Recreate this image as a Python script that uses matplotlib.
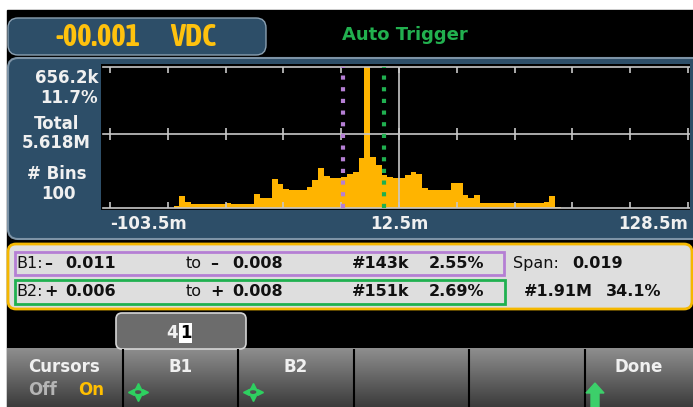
import numpy as np
import matplotlib
matplotlib.use('Agg')
import matplotlib.pyplot as plt
from matplotlib.patches import FancyBboxPatch, Rectangle, Ellipse, Polygon
from matplotlib.colors import LinearSegmentedColormap
from matplotlib import font_manager

# header
reading = '-00.001'
unit = 'VDC'
trigger = 'Auto Trigger'

# histogram: bins span the whole x axis (mV), counts in thousands
x_lo, x_hi = -103.5, 128.5
n_bins = 100
counts_k = [0, 0, 0, 0, 0, 0, 0, 0, 0, 0, 0,
            7, 56, 28, 19, 19, 19, 19, 19, 19, 23, 19, 19, 19, 19, 62, 47, 47, 135, 109,
            88, 81, 81, 81, 95, 129, 183, 149, 137, 137,
            144, 155, 168, 230, 656.2, 236, 199, 151, 144, 137,
            137, 152, 168, 155, 90, 82, 82, 84, 84, 116,
            116, 59, 47, 59,
            20, 20, 20, 20, 20, 20, 20, 20, 20, 20, 20,
            28, 54, 5,
            0, 0, 0, 0, 0, 0, 0, 0, 0, 0, 0, 0, 0, 0, 0, 0, 0, 0, 0, 0, 0, 0]
tick_labels = ['-103.5m', '12.5m', '128.5m']

# side panel
peak_label, peak_pct = '656.2k', '11.7%'
total_label = '5.618M'
bins_label = '100'

# cursors
b1_bin, b2_bin = 40, 47
b1_from, b1_to, b1_count, b1_pct = '0.011', '0.008', '#143k', '2.55%'
b2_from, b2_to, b2_count, b2_pct = '0.006', '0.008', '#151k', '2.69%'
span_val = '0.019'
span_count, span_pct = '#1.91M', '34.1%'
softkeys = ['Cursors', 'B1', 'B2', '', '', 'Done']

# colours
panel_blue = '#2d4e68'
amber = '#ffb400'
purple = '#b57fd4'
green = '#20b050'

# look for a condensed face for the big readout
narrow, stretch, found = 'DejaVu Sans', 'normal', False
cands = []
for f in font_manager.fontManager.ttflist:
    if (str(f.stretch) in ('condensed', 'semi-condensed', 'extra-condensed')
            or 'Narrow' in f.name or 'Condensed' in f.name):
        bold = f.weight in ('bold', 700, 'heavy', 800)
        cands.append((0 if bold else 1, f.name, str(f.stretch)))
if cands:
    cands.sort()
    _, narrow, stretch = cands[0]
    found = True
read_size = 22 if found else 17

W, H = 693, 407
fig = plt.figure(figsize=(W / 100, H / 100), dpi=100)
fig.patch.set_facecolor('white')
bg = fig.add_axes([0, 0, 1, 1])
bg.axis('off')


def txt(x, y, s, size=12, color='#f0f0f0', weight='bold', ha='left', family='DejaVu Sans', **kw):
    bg.text(x, y, s, fontsize=size, color=color, fontweight=weight, ha=ha, va='center',
            family=family, zorder=10, **kw)


bg.add_patch(Rectangle((7, 10), W - 7, H - 10, color='black', zorder=0))

# readout box
bg.add_patch(FancyBboxPatch((8, 18), 258, 37, boxstyle='round,pad=0,rounding_size=10',
                            fc=panel_blue, ec='#8aa0b2', lw=1, zorder=1))
txt(55, 37, reading, size=read_size, color='#ffc20e', family=narrow, fontstretch=stretch)
txt(170, 37, unit, size=read_size, color='#ffc20e', family=narrow, fontstretch=stretch)
txt(342, 35, trigger, size=13, color='#22b04f')

# histogram panel
bg.add_patch(FancyBboxPatch((8, 58), 700, 181, boxstyle='round,pad=0,rounding_size=10',
                            fc=panel_blue, ec='#7d93a6', lw=1.5, zorder=1))
txt(98, 78, peak_label, ha='right')
txt(98, 98, peak_pct, ha='right')
txt(57, 124, 'Total', ha='center')
txt(56, 143, total_label, ha='center')
txt(57, 174, '# Bins', ha='center')
txt(58, 194, bins_label, ha='center')

# cursor info box
bg.add_patch(FancyBboxPatch((8, 244), 684, 65, boxstyle='round,pad=0,rounding_size=8',
                            fc='#dedede', ec='#f5b800', lw=2, zorder=1))
bg.add_patch(Rectangle((15, 252), 489, 23, fc='none', ec=purple, lw=2, zorder=2))
bg.add_patch(Rectangle((15, 280), 490, 24, fc='none', ec=green, lw=2, zorder=2))
dark = '#111111'
for y, lab, sign, v0, v1, cnt, pct in ((263.5, 'B1:', '\u2013', b1_from, b1_to, b1_count, b1_pct),
                                       (292, 'B2:', '+', b2_from, b2_to, b2_count, b2_pct)):
    txt(16, y, lab, color=dark, weight='normal', size=11.5)
    txt(44, y, sign, color=dark, size=11.5)
    txt(65, y, v0, color=dark, size=11.5)
    txt(186, y, 'to', color=dark, weight='normal', size=11.5)
    txt(210, y, sign, color=dark, size=11.5)
    txt(232, y, v1, color=dark, size=11.5)
    txt(352, y, cnt, color=dark, size=11.5)
    txt(429, y, pct, color=dark, size=11.5)
txt(513, 263.5, 'Span:', color=dark, weight='normal', size=11.5)
txt(572, 263.5, span_val, color=dark, size=11.5)
txt(524, 292, span_count, color=dark, size=11.5)
txt(606, 292, span_pct, color=dark, size=11.5)

# softkeys
grad = np.linspace(0, 1, 60).reshape(-1, 1)
cmap = LinearSegmentedColormap.from_list('key', ['#8e8e8e', '#3c3c3c'])
bg.imshow(grad, extent=(7, W, H, 348), cmap=cmap, aspect='auto', zorder=1)
key_edges = [7, 123, 238, 354, 469, 585, W]
bg.vlines(key_edges[1:-1], 349, H, color='black', lw=1.5, zorder=3)
for i, lab in enumerate(softkeys):
    if lab and i > 0:
        txt((key_edges[i] + key_edges[i + 1]) / 2, 367, lab, ha='center')
txt(64, 367, softkeys[0], ha='center')
txt(28, 390, 'Off', color='#b5b5b5')
txt(78, 390, 'On', color='#ffbf00')
for cx in (138, 253):
    bg.add_patch(Ellipse((cx, 392), 9, 6, fc='none', ec='#2ed060', lw=1.5, zorder=4))
    for dx, dy, m in ((0, -6, '^'), (0, 6, 'v'), (-7, 0, '<'), (7, 0, '>')):
        bg.plot(cx + dx, 392 + dy, marker=m, ms=4, color='#2ed060', zorder=4)
bg.add_patch(Polygon([(591, H), (591, 393), (586, 393), (595, 383), (604, 393), (599, 393), (599, H)],
                     closed=True, color='#3ccf6a', zorder=4))

# tab with digit entry
bg.add_patch(FancyBboxPatch((116, 313), 130, 36, boxstyle='round,pad=0,rounding_size=6',
                            fc='#6c6c6c', ec='#d5d5d5', lw=1.2, zorder=2))
txt(178, 333, '4', ha='right')
txt(180, 333, '1', color='black', bbox=dict(fc='white', ec='none', pad=0.6))

bg.set_xlim(0, W)
bg.set_ylim(H, 0)

# histogram axes
hx0, hx1, hy0, hy1 = 101, 690, 64, 210
ax = fig.add_axes([hx0 / W, 1 - hy1 / H, (hx1 - hx0) / W, (hy1 - hy0) / H])
ax.set_facecolor('black')
for s in ax.spines.values():
    s.set_visible(False)
ax.set_xticks([])
ax.set_yticks([])

px = (x_hi - x_lo) / 578
peak = max(counts_k)
cpp = peak / 141
ax.set_xlim(x_lo - 9 * px, x_hi + 2 * px)
ax.set_ylim(-2.3 * cpp, peak + 2.7 * cpp)

edges = np.linspace(x_lo, x_hi, n_bins + 1)
ax.stairs(counts_k, edges, fill=True, color=amber, zorder=2)

line_c = '#c8c8c8'
mid = 0.52 * peak
for yv in (peak, mid, 0):
    ax.plot([x_lo - 7 * px, x_hi + 2 * px], [yv, yv], color=line_c, lw=1.2, zorder=3)
xt = np.linspace(x_lo, x_hi, 11)
tl = 6 * cpp
ax.vlines(xt, peak - tl, peak, color=line_c, lw=1.2, zorder=3)
ax.vlines(xt, mid - tl, mid + tl, color=line_c, lw=1.2, zorder=3)
ax.vlines(xt, 0, tl, color=line_c, lw=1.2, zorder=3)
ax.vlines((x_lo + x_hi) / 2, 0, peak, color=line_c, lw=1.2, zorder=3)

for b, c in ((b1_bin, purple), (b2_bin, green)):
    xc = edges[b] + 2 * px
    ax.plot([xc, xc], [0, peak], color=c, lw=3, ls=(0, (1, 1.8)),
            dash_capstyle='butt', zorder=4)

trans = ax.get_xaxis_transform()
for xv, lab, ha in zip((x_lo, (x_lo + x_hi) / 2, x_hi), tick_labels, ('left', 'center', 'right')):
    ax.text(xv, -0.096, lab, transform=trans, ha=ha, va='center', fontsize=12,
            fontweight='bold', color='#f0f0f0', clip_on=False)

fig.savefig('out.png', dpi=100, facecolor=fig.get_facecolor())
